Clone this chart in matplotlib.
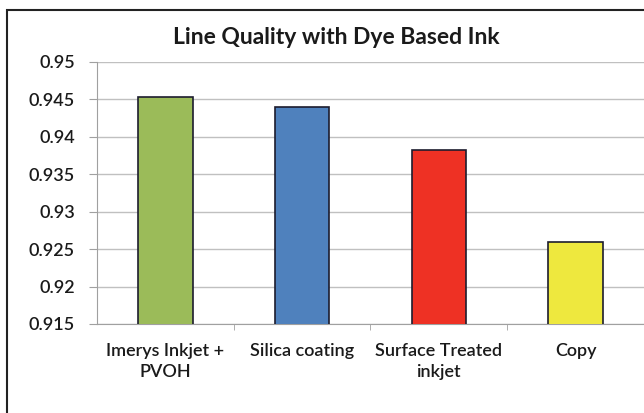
import matplotlib
matplotlib.use('Agg')
import matplotlib.pyplot as plt
import matplotlib.patches as patches

# data
categories = ['Imerys Inkjet +\nPVOH', 'Silica coating', 'Surface Treated\ninkjet', 'Copy']
values = [0.9453, 0.9440, 0.9383, 0.9260]
colors = ['#9BBB59', '#4F81BD', '#EE3124', '#EEE83E']
yticks = [0.915, 0.92, 0.925, 0.93, 0.935, 0.94, 0.945, 0.95]
ytick_labels = ['0.915', '0.92', '0.925', '0.93', '0.935', '0.94', '0.945', '0.95']

plt.rcParams['font.family'] = ['Lato', 'DejaVu Sans']

fig = plt.figure(figsize=(6.44, 4.13), dpi=100)
ax = fig.add_axes([0.1506, 0.2155, 0.8494, 0.6344])

x = range(len(categories))
ax.bar(x, values, width=0.4, color=colors, edgecolor='#1c1c2e', linewidth=1.2,
       bottom=0, zorder=3)
ax.set_ylim(0.915, 0.95)
ax.set_xlim(-0.5, len(categories) - 0.5)

ax.set_yticks(yticks)
ax.set_yticklabels(ytick_labels, fontsize=13, fontweight=600, color='#1a1a1a')
ax.set_xticks(list(x))
ax.set_xticklabels(categories, fontsize=13, linespacing=1.35, fontweight=600,
                   color='#1a1a1a')
ax.tick_params(axis='y', length=6, color='#a0a0a0', pad=10)
ax.tick_params(axis='x', length=0, pad=14)
# category boundary ticks
ax.set_xticks([0.5, 1.5, 2.5], minor=True)
ax.tick_params(axis='x', which='minor', length=4, color='#a0a0a0')

ax.grid(axis='y', color='#c0c0c0', linewidth=1.0, zorder=0)
for side in ['top', 'right']:
    ax.spines[side].set_visible(False)
ax.spines['left'].set_color('#a0a0a0')
ax.spines['bottom'].set_color('#a0a0a0')

fig.text(0.523, 0.91, 'Line Quality with Dye Based Ink', ha='center', va='center',
         fontsize=16.5, fontweight='bold', color='#1a1a1a')

# outer chart frame
frame = patches.Rectangle((0.0109, -0.02), 1.05, 0.9958, transform=fig.transFigure,
                          fill=False, edgecolor='#222222', linewidth=1.5, clip_on=False)
fig.patches.append(frame)

plt.savefig('out.png', dpi=100)
